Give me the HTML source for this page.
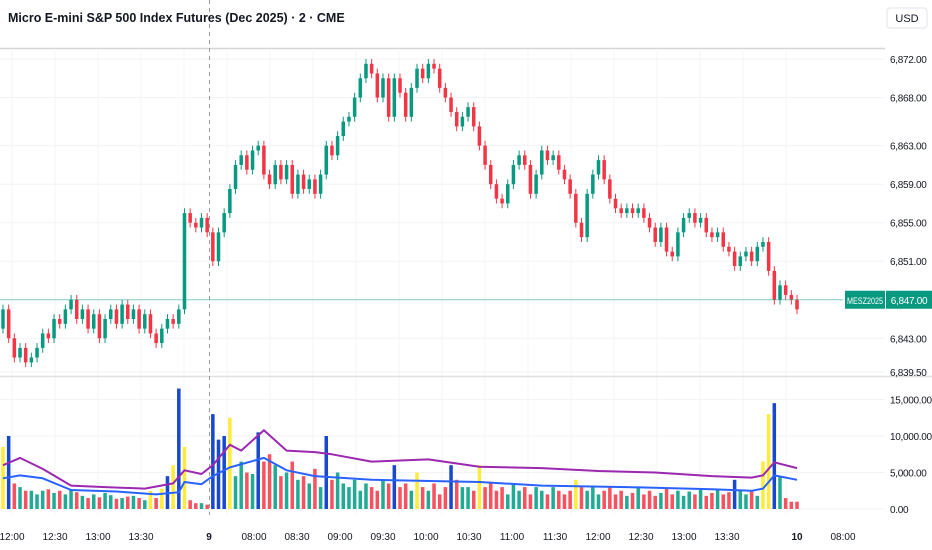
<!DOCTYPE html>
<html><head><meta charset="utf-8">
<style>
html,body{margin:0;padding:0;background:#fff;}
svg{display:block;font-family:"Liberation Sans",sans-serif;}
</style></head>
<body>
<svg id="chart" width="932" height="550" viewBox="0 0 932 550">
  <rect x="0" y="0" width="932" height="550" fill="#ffffff"/>
  <g id="grid"></g>
  <line x1="0" y1="48.5" x2="885" y2="48.5" stroke="#d6d6d6" stroke-width="1.5"/>
  <line x1="0" y1="376.5" x2="932" y2="376.5" stroke="#e0e0e0" stroke-width="1.5"/>
  <line x1="209.5" y1="0" x2="209.5" y2="515" stroke="#9a9a9a" stroke-dasharray="4,4"/>
  <g id="vols"></g>
  <g id="mas"></g>
  <g id="candles"></g>
  <g id="axes"></g>
  <text x="8" y="22" font-size="12.5" font-weight="bold" fill="#131722">Micro E-mini S&amp;P 500 Index Futures (Dec 2025) · 2 · CME</text>
  <rect x="887" y="8" width="40" height="20" rx="3" fill="#fff" stroke="#e0e3eb"/>
  <text x="907" y="22" font-size="11" text-anchor="middle" fill="#131722">USD</text>
</svg>
<script>
const closes=[6846,6843,6841,6842,6840.5,6841,6842,6843.5,6843,6845,6844.5,6846,
6847,6845,6846,6844,6845.5,6843,6845,6846,6844.5,6846.5,6845,6846,6844,6845.5,6843.5,6842.5,6844,6845,6844.5,6846,
6856,6855,6854.5,6855.5,6854,6851,6854,6856,6858.5,6861,6862,6860.5,6862.5,6863,6860,6859,6861,6859.5,6861,6858,6860,6858.5,6859.5,6858,6860,6863,6862,6864,6865.5,6866,6868,6870,6871.5,6870.5,6868,6870,6866,6870,6868.5,6866,6869,6871,6870,6871.5,6871,6869,6868,6866.5,6865,6866,6867,6865,6863,6861,6859,6857.5,6857,6859,6861,6862,6861,6858,6860,6862.5,6861.5,6862,6860.5,6859.5,6858,6855,6853.5,6858,6860,6861.5,6859.5,6857.5,6856.5,6856,6856.5,6856,6856.5,6855.5,6854.5,6853,6854.5,6852,6851.5,6854,6855.5,6856,6855,6855.5,6854,6853.5,6854,6852.5,6852,6850.5,6851.5,6852,6851,6852.5,6853,6850,6847,6848.5,6847.5,6847,6846];
const firstOpen=6844;
const volumes=[8.5,10,3.5,3,2.5,2.5,2,2.5,2.7,2.2,2.5,2,2.7,2.3,1.8,1.5,2,1.6,2.2,1.9,1.4,1.5,1.7,1.8,1.5,1.2,2.5,1.5,2.8,4.5,6,16.5,8.5,1.2,0.8,0.8,0.6,13,9.5,10,12.5,4.5,6.5,5,4.8,10.5,6.5,7.5,6,4.5,5,6.5,4,4.5,3.5,5.5,3,10,4,5,3.5,3,4,2.5,3.5,3,2.5,4,3.5,6,3,3.5,2.5,5,3,2.5,3.5,2,3,6,4,3,3,2.5,6,3,3.5,2.5,3,2,3.5,2.5,3,2,3,2.5,2,3,2.5,2,2.5,4,3,2.5,3,2,2.5,3,2,2.5,1.8,2.2,3,2,2.5,1.8,2.2,2.8,2,2.5,1.8,2.4,2,2.6,1.8,2.2,2.8,2,2.3,4,2.5,2,2.6,1.8,6.5,13,14.5,4.5,1.5,1,1];
const specialVol={0:'y',1:'b',26:'y',28:'y',29:'b',30:'y',31:'b',32:'y',37:'b',38:'b',39:'b',40:'y',45:'b',57:'b',69:'b',73:'y',79:'b',84:'y',101:'y',129:'b',134:'y',135:'y',136:'b'};
const maPurpleIdx=[0,3,7,12,18,25,30,32,35,37,40,42,46,50,55,58,65,75,84,95,105,115,125,132,134,136,140];
const maPurpleVal=[6,7,5.5,3.2,3,2.8,3.5,5.3,4.8,6,8.8,8,10.8,8,7.8,7.5,6.5,6.8,5.8,5.6,5.2,5,4.5,4.3,4.6,6.4,5.6];
const maBlueIdx=[0,3,7,12,20,27,31,32,35,37,40,46,50,55,65,84,95,110,125,132,134,136,140];
const maBlueVal=[4.2,4.6,4.2,2.6,2.4,2,2.3,3.7,3.4,4.5,5.7,7,5.3,4.5,4,3.7,3.2,3,2.7,2.5,2.8,4.6,4];
const priceTicks=[6872,6868,6863,6859,6855,6851,6843,6839.5];
const volTicks=[15000,10000,5000,0];
const timeLabels=['12:00','12:30','13:00','13:30','9','08:00','08:30','09:00','09:30','10:00','10:30','11:00','11:30','12:00','12:30','13:00','13:30','10','08:00'];
const lastPrice=6847;
const wick=0.5;

const NS='http://www.w3.org/2000/svg';
function mk(tag,attrs,parent){const e=document.createElementNS(NS,tag);for(const k in attrs)e.setAttribute(k,attrs[k]);parent.appendChild(e);return e;}
const py=p=>59+(6872-p)*9.63;
const vy=v=>509-v*7.3;
const N=closes.length;
const step=(797-3)/(N-1);
const bx=i=>3+i*step;
const tx=i=>12+i*43;
const fmt=v=>v.toLocaleString('en-US',{minimumFractionDigits:2,maximumFractionDigits:2});
const G='#089981',R='#f23645';

const grid=document.getElementById('grid');
priceTicks.forEach(p=>{const l=mk('line',{x1:0,x2:885,y1:py(p),y2:py(p),stroke:'#f2f3f5'},grid);

});
volTicks.forEach(v=>{const l=mk('line',{x1:0,x2:885,y1:vy(v/1000),y2:vy(v/1000),stroke:'#f2f3f5'},grid);

});
timeLabels.forEach((t,i)=>{const l=mk('line',{x1:tx(i),x2:tx(i),y1:50,y2:515,stroke:'#f4f5f7'},grid);

});

const vg=document.getElementById('vols');
const cg=document.getElementById('candles');
const bw=Math.max(2,step*0.62);
for(let i=0;i<N;i++){
  const o=i===0?firstOpen:closes[i-1], c=closes[i];
  const up=c>=o; const col=up?G:R;
  const x=bx(i);
  const ln=mk('line',{x1:x,x2:x,y1:py(Math.max(o,c)+wick),y2:py(Math.min(o,c)-wick),stroke:col,'stroke-width':1},cg);
  
  
  const top=py(Math.max(o,c)),h=Math.max(1,py(Math.min(o,c))-top);
  const r=mk('rect',{x:x-bw/2,y:top,width:bw,height:h,fill:col},cg);
  
  
  const s=specialVol[i];
  const vc=s==='y'?'#ffeb3b':s==='b'?'#1848cc':(up?'#22ab94':'#f7525f');
  const v=volumes[i];
  const vr=mk('rect',{x:x-bw/2,y:vy(v),width:bw,height:vy(0)-vy(v),fill:vc},vg);
  
  
}
const mg=document.getElementById('mas');
function line(idx,val,col,name){
  const d=idx.map((k,j)=>(j?'L':'M')+bx(k).toFixed(1)+','+vy(val[j]).toFixed(1)).join(' ');
  const p=mk('path',{d:d,fill:'none',stroke:col,'stroke-width':2,'stroke-linejoin':'round'},mg);
  
  
}
line(maPurpleIdx,maPurpleVal,'#9c27b0','volume-ma-long');
line(maBlueIdx,maBlueVal,'#2962ff','volume-ma-short');

const ax=document.getElementById('axes');
priceTicks.forEach(p=>{const t=mk('text',{x:890,y:py(p)+4,'font-size':10,'letter-spacing':-0.3,fill:'#131722'},ax);t.textContent=fmt(p);

});
volTicks.forEach(v=>{const t=mk('text',{x:890,y:vy(v/1000)+4,'font-size':10,'letter-spacing':-0.3,fill:'#131722'},ax);t.textContent=fmt(v);

});
timeLabels.forEach((s,i)=>{let x=tx(i);
  const bold=(s==='9'||s==='10');
  if(s==='9')x=209; if(s==='10')x=797; if(i===18)x=843;
  if(i>4&&i<17)x=254+(i-5)*43;
  const t=mk('text',{x:x,y:540,'font-size':10,'text-anchor':'middle',fill:'#131722','font-weight':bold?'bold':'normal'},ax);t.textContent=s;
  
  });
const ly=py(lastPrice);
const pl=mk('line',{x1:0,x2:843,y1:ly,y2:ly,stroke:'#089981','stroke-opacity':0.5},ax);


const b1=mk('rect',{x:845,y:ly-9,width:40,height:18,fill:G},ax);


const t1=mk('text',{x:865,y:ly+4,'font-size':9,'text-anchor':'middle',fill:'#fff',textLength:36,lengthAdjust:'spacingAndGlyphs'},ax);t1.textContent='MESZ2025';


const b2=mk('rect',{x:886,y:ly-9,width:46,height:18,fill:G},ax);


const t2=mk('text',{x:909,y:ly+4,'font-size':10,'letter-spacing':-0.3,'text-anchor':'middle',fill:'#fff'},ax);t2.textContent=fmt(lastPrice);


</script>
</body></html>
